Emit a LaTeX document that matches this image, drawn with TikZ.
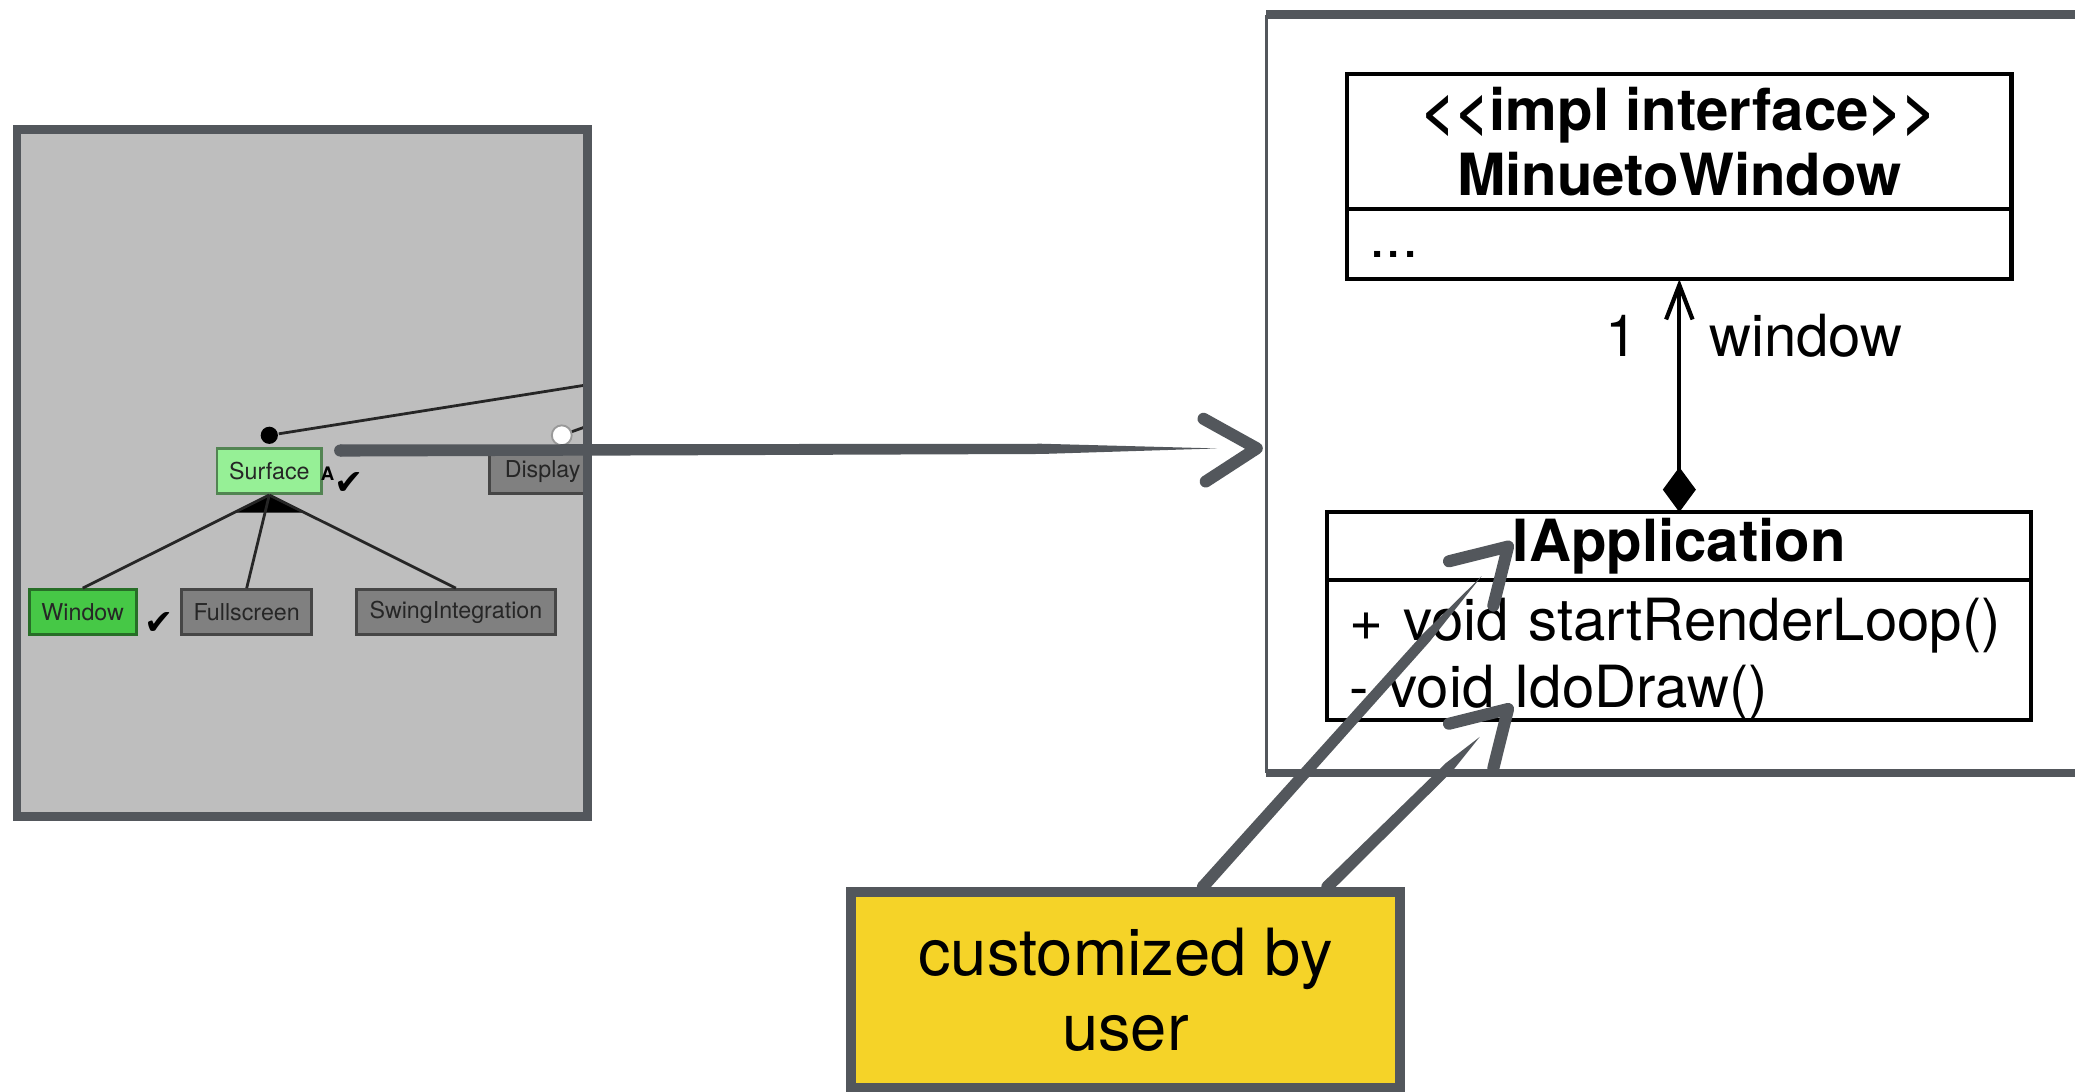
\documentclass[tikz,border=0pt]{standalone}
\usepackage{fontspec}
\setmainfont{TeX Gyre Heros}
\newfontfamily\chkfont{DejaVu Sans}
\usetikzlibrary{positioning,calc,arrows.meta}

\definecolor{ink}{RGB}{83,87,92}
\definecolor{fmbg}{RGB}{190,190,190}
\definecolor{fmlight}{RGB}{150,240,150}
\definecolor{fmgreen}{RGB}{70,200,70}
\definecolor{fmgray}{RGB}{128,128,128}
\definecolor{notefill}{RGB}{245,211,40}

\newcommand\umlfont{\fontsize{12.5}{14.5}\selectfont}
% brush arrow: start, tip, direction of the head
\newcommand\brusharrow[3]{%
  \coordinate (ba) at ($(#2)!0.3cm!(#1)$);
  \coordinate (bm) at ($(#1)!0.8!(ba)$);
  \fill[ink] (#1) circle (1.3pt);
  \fill[ink] ($(#1)!1.3pt!90:(ba)$) -- ($(bm)!1.1pt!90:(ba)$) -- (ba)
    -- ($(bm)!1.1pt!-90:(ba)$) -- ($(#1)!1.3pt!-90:(ba)$) -- cycle;
  \draw[ink, line width=2.6pt, line cap=round, line join=round]
    ($(#2)+(#3+149:0.46)$) -- (#2) -- ($(#2)+(#3+211:0.46)$);
}

\begin{document}
\begin{tikzpicture}[
    fmfeat/.style={draw=#1!55!black, fill=#1, line width=0.6pt, minimum height=0.34cm,
      inner sep=0pt, text=black!85, font=\fontsize{5}{6}\selectfont},
    fmline/.style={black!85, line width=0.6pt},
    chk/.style={inner sep=0pt, font=\chkfont\fontsize{7.5}{8}\selectfont},
    umlhead/.style={draw, line width=0.9pt, outer sep=0pt, inner ysep=0pt, align=center,
      font=\fontsize{12.5}{14}\selectfont\bfseries},
    umlbody/.style={draw, line width=0.9pt, outer sep=0pt, inner xsep=0.17cm,
      inner ysep=0pt, align=left, font=\umlfont},
    umlline/.style={line width=0.9pt},
    notebox/.style={draw=ink, line width=2.2pt, fill=notefill, align=center,
      font=\fontsize{14}{16.2}\selectfont}]
    % ==== FRAME ====
    \useasboundingbox (0,0) rectangle (15.68,8.25);
    \clip (0,0) rectangle (15.68,8.25);

    % ==== FEATURE MODEL ====
    \node[fill=fmbg, minimum width=4.31cm, minimum height=5.19cm, inner sep=0pt, outer sep=0pt] (fm) at (2.285,4.675) {};
    \begin{scope}
        \clip (fm.south west) rectangle (fm.north east);
        \node[fmfeat=fmlight, minimum width=0.79cm] (sfc) at (2.035,4.69) {Surface};
        \node[fmfeat=fmgreen, minimum width=0.81cm] (wnd) at (0.625,3.625) {Window};
        \node[fmfeat=fmgray, minimum width=0.98cm] (fsc) at (1.864,3.625) {Fullscreen};
        \node[fmfeat=fmgray, minimum width=1.50cm] (swi) at (3.445,3.625) {SwingIntegration};
        \node[fmfeat=fmgray, minimum width=0.80cm] (dsp) at (4.10,4.69) {Display};
        \coordinate (parent) at (6.0,5.59);
        \node[circle, fill=black, inner sep=0pt, minimum size=0.13cm] (mand) at ($(sfc.north)+(0,0.09)$) {};
        \node[circle, draw=black!40, fill=white, inner sep=0pt, minimum size=0.15cm] (opt) at ($(dsp.north)+(0.145,0.09)$) {};
        \draw[fmline] (mand) -- (parent);
        \draw[fmline] (opt) -- (parent);
        \fill (sfc.south) -- ($(sfc.south)!0.19!(wnd.north)$) -- ($(sfc.south)!0.19!(swi.north)$) -- cycle;
        \draw[fmline] (sfc.south) -- (wnd.north);
        \draw[fmline] (sfc.south) -- (fsc.north);
        \draw[fmline] (sfc.south) -- (swi.north);
        \node[chk] (sfcchk) at ($(sfc.east)+(0.2,-0.09)$) {✔};
        \node[inner sep=0pt, font=\fontsize{4}{4}\selectfont\bfseries] (sfcalt) at ($(sfc.east)+(0.035,-0.02)$) {A};
        \node[chk] (wndchk) at ($(wnd.east)+(0.16,-0.085)$) {✔};
    \end{scope}
    \draw[ink, line width=1.8pt] (fm.south west) rectangle (fm.north east);

    % ==== UML PANEL ====
    \coordinate (umlnw) at (9.57,8.14);
    \coordinate (umlsw) at (9.57,2.41);
    \draw[ink, line width=1.8pt] (umlnw) -- (15.9,8.14);
    \draw[ink, line width=0.8pt] (umlnw) -- (umlsw);
    \draw[ink, line width=1.6pt] (umlsw) -- (15.9,2.41);

    \node[umlhead, minimum width=5.02cm, minimum height=1.02cm] (mwhead) at (12.69,7.18)
        {<\kern0pt<impl interface>\kern0pt>\\MinuetoWindow};
    \node[umlbody, text width=4.68cm, minimum height=0.53cm, below=0pt of mwhead] (mwbody) {\strut...};
    \node[umlhead, minimum width=5.32cm, minimum height=0.51cm] (iahead) at (12.69,4.125) {IApplication};
    \node[umlbody, text width=4.98cm, text height=13pt, minimum height=1.03cm, below=0pt of iahead] (iabody)
        {+ void startRenderLoop()\\- void IdoDraw()};
    \draw[umlline, {Diamond[length=0.34cm,width=0.25cm]}-{Straight Barb[length=0.26cm,width=0.2cm]}]
        (iahead.north) -- (mwbody.south)
        node[pos=0.756, anchor=east, inner sep=0pt, xshift=-0.30cm, font=\umlfont] (mult) {1}
        node[pos=0.756, anchor=west, inner sep=0pt, xshift=0.21cm, font=\umlfont] (role) {window};

    % ==== NOTE ====
    \node[notebox, minimum width=4.15cm, minimum height=1.48cm] (note) at (8.505,0.77) {customized by\\user};

    % ==== BRUSH ARROWS ====
    \coordinate (fmout) at ($(sfc.north east)+(0.13,-0.025)$);
    \coordinate (fmtip) at ($(umlsw)+(-0.073,2.452)$);
    \brusharrow{fmout}{fmtip}{2}
    \coordinate (cust1) at ($(note.north)+(0.585,0)$);
    \coordinate (tip1) at ($(iahead.north west)+(1.366,-0.26)$);
    \brusharrow{cust1}{tip1}{45}
    \coordinate (cust2) at ($(note.north)+(1.525,0)$);
    \coordinate (tip2) at ($(iabody.south west)+(1.366,0.082)$);
    \brusharrow{cust2}{tip2}{45}
\end{tikzpicture}
\end{document}
